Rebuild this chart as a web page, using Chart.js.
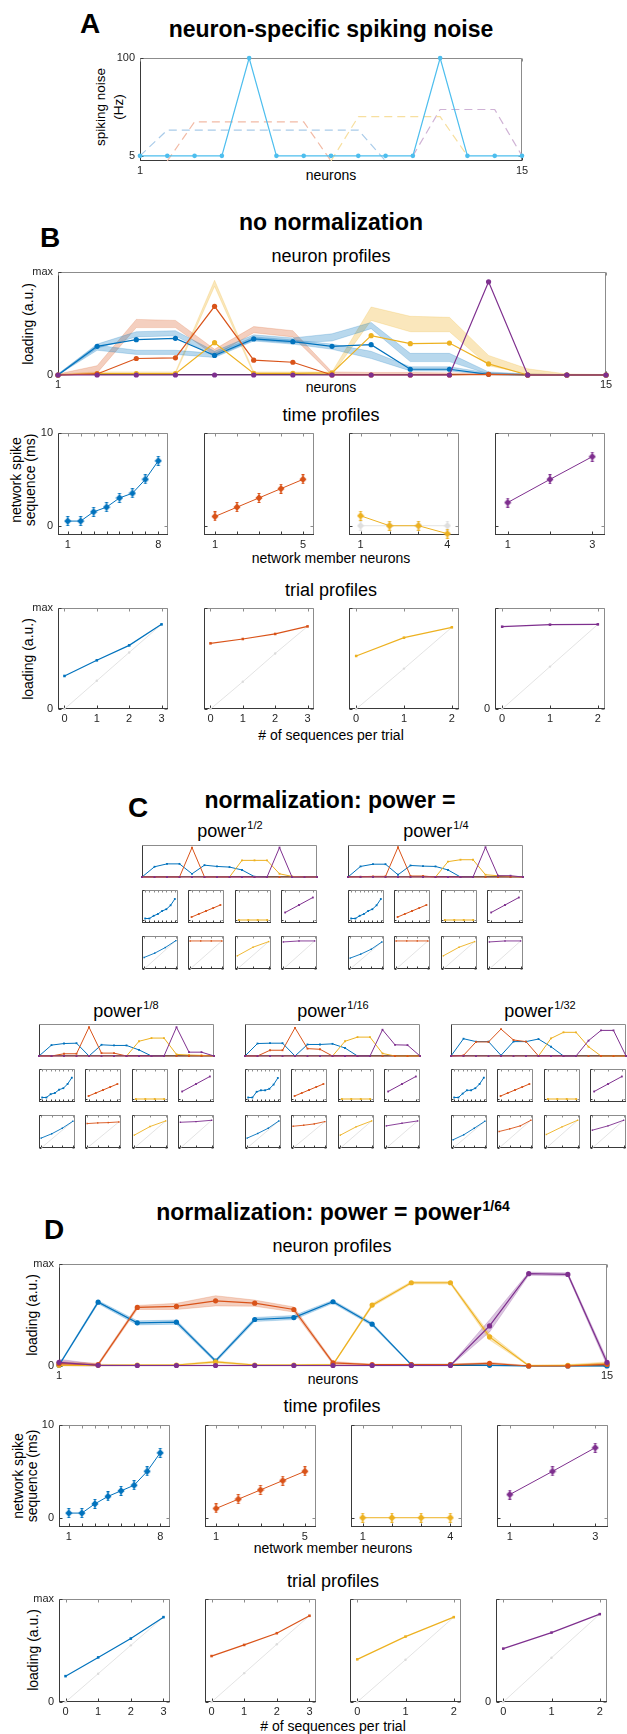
<!DOCTYPE html>
<html><head><meta charset="utf-8">
<script src="https://cdn.jsdelivr.net/npm/chart.js@4.4.1/dist/chart.umd.min.js"></script>
<style>
html,body{margin:0;padding:0;background:#fff}
body{position:relative;width:627px;height:1734px;overflow:hidden;font-family:"Liberation Sans",Arial,Helvetica,sans-serif;color:#000}
.t{position:absolute;white-space:nowrap;line-height:1;transform:translate(-50%,-50%)}
.b{font-weight:bold}
.rot{transform:translate(-50%,-50%) rotate(-90deg);text-align:center}
.sup{font-size:11px;position:relative;top:-8px;margin-left:1px}
.supb{font-size:14px;position:relative;top:-9px;margin-left:1px}
canvas{position:absolute}
</style></head><body>

<div class="t b" style="left:90px;top:23.5px;font-size:28px">A</div>
<div class="t b" style="left:331px;top:29px;font-size:23px">neuron-specific spiking noise</div>
<div class="t rot" style="left:110px;top:107px;font-size:13.5px;line-height:18px">spiking noise<br>(Hz)</div>
<div class="t" style="left:331px;top:175px;font-size:14px">neurons</div>

<div class="t b" style="left:50px;top:237.5px;font-size:28px">B</div>
<div class="t b" style="left:331px;top:222px;font-size:23px">no normalization</div>
<div class="t" style="left:331px;top:256px;font-size:18px">neuron profiles</div>
<div class="t rot" style="left:28px;top:324px;font-size:14px">loading (a.u.)</div>
<div class="t" style="left:331px;top:387px;font-size:14px">neurons</div>
<div class="t" style="left:331px;top:415px;font-size:18px">time profiles</div>
<div class="t rot" style="left:23px;top:480px;font-size:14px;line-height:14px">network spike<br>sequence (ms)</div>
<div class="t" style="left:331px;top:558px;font-size:14px">network member neurons</div>
<div class="t" style="left:331px;top:590px;font-size:18px">trial profiles</div>
<div class="t rot" style="left:28px;top:659px;font-size:14px">loading (a.u.)</div>
<div class="t" style="left:331px;top:735px;font-size:14px"># of sequences per trial</div>

<div class="t b" style="left:138px;top:807.5px;font-size:28px">C</div>
<div class="t b" style="left:330px;top:800px;font-size:23px">normalization: power =</div>
<div class="t" style="left:230px;top:831px;font-size:18px">power<span class="sup">1/2</span></div>
<div class="t" style="left:436px;top:831px;font-size:18px">power<span class="sup">1/4</span></div>
<div class="t" style="left:126px;top:1010.5px;font-size:18px">power<span class="sup">1/8</span></div>
<div class="t" style="left:333px;top:1010.5px;font-size:18px">power<span class="sup">1/16</span></div>
<div class="t" style="left:540px;top:1010.5px;font-size:18px">power<span class="sup">1/32</span></div>

<div class="t b" style="left:333px;top:1212px;font-size:23px">normalization: power = power<span class="supb">1/64</span></div>
<div class="t b" style="left:54px;top:1230px;font-size:28px">D</div>
<div class="t" style="left:332px;top:1245.5px;font-size:18px">neuron profiles</div>
<div class="t rot" style="left:32px;top:1315px;font-size:14px">loading (a.u.)</div>
<div class="t" style="left:333px;top:1379px;font-size:14px">neurons</div>
<div class="t" style="left:332px;top:1405.5px;font-size:18px">time profiles</div>
<div class="t rot" style="left:25px;top:1476px;font-size:14px;line-height:14px">network spike<br>sequence (ms)</div>
<div class="t" style="left:333px;top:1548px;font-size:14px">network member neurons</div>
<div class="t" style="left:333px;top:1580.5px;font-size:18px">trial profiles</div>
<div class="t rot" style="left:33px;top:1650px;font-size:14px">loading (a.u.)</div>
<div class="t" style="left:333px;top:1726px;font-size:14px"># of sequences per trial</div>

<script>
// ================= DATA =================
const neurons = [1,2,3,4,5,6,7,8,9,10,11,12,13,14,15];
const membersBlue = [1,2,3,4,5,6,7,8];
const membersRed = [1,2,3,4,5];
const membersYellow = [1,2,3,4];
const membersPurple = [1,2,3];
const seq3 = [0,1,2,3];
const seq2 = [0,1,2];

// Panel A: spiking noise (Hz)
const aNoise     = [5,5,5,5,100,5,5,5,5,5,5,100,5,5,5];
const aNetBlue   = [5,30,30,30,30,30,30,30,30,0,null,null,null,null,null];
const aNetRed    = [null,0,38,38,38,38,38,0,null,null,null,null,null,null,null];
const aNetYellow = [null,null,null,null,null,null,null,0,43,43,43,43,5,null,null];
const aNetPurple = [null,null,null,null,null,null,null,null,null,null,5,50,50,50,5];

// Panel B: no normalization - neuron profiles
const bBlue   = [0,0.278,0.343,0.356,0.19,0.35,0.324,0.278,0.294,0.056,0.056,0.007,0,0,0];
const bRed    = [0,0.01,0.16,0.167,0.667,0.144,0.124,0,0,0,0,0.007,0,0,0];
const bYellow = [0,0.013,0.013,0.013,0.314,0.016,0.016,0.02,0.382,0.304,0.31,0.108,0,0,0];
const bPurple = [0,0,0,0,0,0,0,0,0,0,0,0.905,0,0,0];
const bBlueUpLo = [0,0.26,0.37,0.38,0.18,0.34,0.31,0.33,0.45,0.13,0.13,0.01,0,0,0];
const bBlueUpHi = [0.01,0.30,0.42,0.43,0.23,0.39,0.36,0.40,0.51,0.21,0.21,0.03,0.01,0,0];
const bBlueDnLo = [0,0.24,0.20,0.20,0.17,0.33,0.30,0.25,0.16,0.04,0.04,0.005,0,0,0];
const bBlueDnHi = [0.01,0.29,0.24,0.24,0.21,0.37,0.34,0.30,0.23,0.08,0.08,0.02,0.005,0,0];
const bRedLo    = [0,0.02,0.46,0.46,0.19,0.41,0.37,0,0.005,0.005,0.005,0.005,0,0,0];
const bRedHi    = [0.01,0.09,0.54,0.53,0.25,0.47,0.43,0.03,0.025,0.025,0.02,0.02,0.01,0.005,0.005];
const bYellowLo = [0,0.01,0.01,0.01,0.86,0.01,0.01,0,0.53,0.42,0.42,0.09,0.01,0,0];
const bYellowHi = [0.01,0.03,0.03,0.03,0.92,0.03,0.03,0.03,0.66,0.57,0.56,0.19,0.06,0.01,0.005];
// time profiles (ms)
const bTimeBlue   = [0.5,0.5,1.5,2,3,3.5,5,7];
const bTimeRed    = [1,2,3,4,5];
const bTimeYellow = [1.07,0,0,-0.86];
const bTimeYellowTruth = [0,0,0,0];
const bTimePurple = [2.5,5,7.45];
// trial profiles
const bTrialBlue   = [0.327,0.482,0.630,0.838];
const bTrialRed    = [0.65,0.693,0.743,0.818];
const bTrialYellow = [0.525,0.706,0.809];
const bTrialPurple = [0.815,0.835,0.838];
const bDiagBlue   = [0,0.28,0.56,0.838];
const bDiagRed    = [0,0.27,0.55,0.818];
const bDiagYellow = [0,0.40,0.809];
const bDiagPurple = [0,0.42,0.838];

// Panel C: neuron profiles per normalization power
const c2Blue   = [0,0.32,0.41,0.41,0.10,0.37,0.33,0.31,0.22,0.01,0,0,0,0,0];
const c2Red    = [0,0,0,0,0.92,0,0,0,0,0,0,0,0,0,0];
const c2Yellow = [0,0,0,0,0,0,0,0,0.52,0.52,0.52,0.10,0.02,0,0];
const c2Purple = [0,0,0,0,0,0,0,0,0,0,0,0.92,0,0,0];
const c4Blue   = [0,0.33,0.40,0.40,0.07,0.36,0.34,0.33,0.22,0,0,0,0,0,0];
const c4Red    = [0,0.01,0.02,0.02,0.93,0.03,0.03,0,0,0,0,0,0,0,0];
const c4Yellow = [0,0,0,0,0,0,0,0,0.48,0.54,0.54,0.07,0.04,0.02,0];
const c4Purple = [0,0,0,0,0,0,0,0,0,0,0,0.93,0.04,0.04,0];
const c8Blue   = [0,0.34,0.39,0.40,0,0.35,0.33,0.33,0.19,0,0,0,0,0,0];
const c8Red    = [0,0,0.07,0.07,0.90,0.09,0.09,0,0,0,0,0,0,0,0];
const c8Yellow = [0,0,0,0,0,0,0,0,0.46,0.56,0.56,0.05,0.03,0.02,0];
const c8Purple = [0,0,0,0,0,0,0,0,0,0,0,0.90,0.12,0.12,0];
const c16Blue   = [0,0.39,0.40,0.40,0,0.36,0.36,0.38,0.25,0,0,0,0,0,0];
const c16Red    = [0,0,0.18,0.18,0.88,0.23,0.21,0,0,0,0,0,0,0,0];
const c16Yellow = [0,0,0,0,0,0,0,0,0.46,0.59,0.59,0.08,0,0,0];
const c16Purple = [0,0,0,0,0,0,0,0,0,0,0,0.82,0.35,0.34,0];
const c32Blue   = [0,0.54,0.45,0.45,0.02,0.45,0.45,0.53,0.29,0,0,0,0,0,0];
const c32Red    = [0,0.02,0.44,0.44,0.84,0.50,0.45,0,0,0,0,0,0,0,0];
const c32Yellow = [0,0,0,0,0,0,0,0,0.55,0.74,0.74,0.29,0,0,0];
const c32Purple = [0,0,0,0,0,0,0,0,0,0,0,0.48,0.80,0.80,0];
// Panel C: time profiles (blue differs per power)
const c2TimeBlue  = [0.5,0.5,1.4,2,3,3.6,4.9,7];
const c4TimeBlue  = [0.5,0.5,1.4,2,3,3.6,4.9,7];
const c8TimeBlue  = [0.5,0.5,1.6,2,3.1,3.6,5,7.1];
const c16TimeBlue = [0.5,0.5,2.4,2.9,2.9,3.4,4.8,7];
const c32TimeBlue = [0.5,0.5,1.8,2.9,2.9,3.6,5,7.1];
const cTimeRed    = [1,2,3,4,5];
const cTimeYellow = [0,0,0,0];
const cTimePurple = [2.5,5,7.5];
// Panel C: trial profiles
const c2TrialBlue   = [0.35,0.48,0.65,0.86];
const c2TrialRed    = [0.85,0.85,0.85,0.85];
const c2TrialYellow = [0.40,0.66,0.83];
const c2TrialPurple = [0.82,0.85,0.85];
const c4TrialBlue   = [0.33,0.45,0.60,0.82];
const c4TrialRed    = [0.85,0.85,0.85,0.85];
const c4TrialYellow = [0.40,0.66,0.83];
const c4TrialPurple = [0.82,0.85,0.85];
const c8TrialBlue   = [0.30,0.43,0.60,0.81];
const c8TrialRed    = [0.74,0.76,0.77,0.79];
const c8TrialYellow = [0.39,0.65,0.82];
const c8TrialPurple = [0.78,0.80,0.84];
const c16TrialBlue   = [0.30,0.44,0.60,0.82];
const c16TrialRed    = [0.66,0.69,0.73,0.80];
const c16TrialYellow = [0.39,0.64,0.82];
const c16TrialPurple = [0.67,0.75,0.82];
const c32TrialBlue   = [0.25,0.40,0.60,0.81];
const c32TrialRed    = [0.50,0.58,0.67,0.84];
const c32TrialYellow = [0.41,0.64,0.84];
const c32TrialPurple = [0.54,0.67,0.84];

// Panel D: power^(1/64)
const dBlue   = [0.007,0.626,0.423,0.430,0.049,0.456,0.475,0.63,0.41,0.013,0.013,0.007,0,0,0];
const dRed    = [0.023,0.013,0.574,0.584,0.639,0.616,0.554,0.03,0.013,0.013,0.013,0.026,0,0,0.016];
const dYellow = [0.007,0.007,0.01,0.01,0.04,0.01,0.01,0.013,0.597,0.816,0.816,0.285,0.003,0.007,0.02];
const dPurple = [0.036,0.007,0.005,0.005,0.005,0.005,0.005,0.005,0.005,0.005,0.005,0.393,0.905,0.898,0.036];
const dSpreadBlue   = [0.01,0.015,0.02,0.02,0.015,0.02,0.02,0.015,0.015,0.005,0.005,0.005,0,0,0];
const dSpreadRed    = [0.02,0.015,0.02,0.03,0.05,0.03,0.025,0.015,0.005,0.005,0.005,0.01,0.005,0.005,0.015];
const dSpreadYellow = [0.005,0.005,0.005,0.005,0.01,0.005,0.005,0.005,0.015,0.012,0.012,0.03,0.008,0.008,0.02];
const dSpreadPurple = [0.03,0.01,0.005,0.005,0.005,0.005,0.005,0.005,0.005,0.005,0.005,0.06,0.015,0.015,0.03];
const dTimeBlue   = [0.5,0.5,1.5,2.3,2.9,3.5,5,7];
const dTimeRed    = [1,2,3,4,5];
const dTimeYellow = [0,0,0,0];
const dTimePurple = [2.5,5,7.55];
const dTrialBlue   = [0.251,0.433,0.616,0.824];
const dTrialRed    = [0.446,0.554,0.668,0.837];
const dTrialYellow = [0.414,0.635,0.824];
const dTrialPurple = [0.518,0.674,0.853];
const dDiagBlue   = [0,0.275,0.55,0.824];
const dDiagRed    = [0,0.28,0.56,0.837];
const dDiagYellow = [0,0.41,0.824];
const dDiagPurple = [0,0.43,0.853];

// ================= RENDERING =================
Chart.defaults.font.family = '"Liberation Sans", Arial, Helvetica, sans-serif';
Chart.defaults.font.size = 11;
Chart.defaults.color = '#262626';

const BLUE = '#0072BD', RED = '#D95319', YEL = '#EDB120', PUR = '#7E2F8E', CYAN = '#4DBEEE';
const DIAG = '#dcdcdc';
const timeXlim  = [[0.25,8.75],[0.5,5.5],[0.6,4.4],[0.7,3.3]];
const trialXlim = [[-0.2,3.2],[-0.2,3.2],[-0.15,2.15],[-0.15,2.15]];

const boxPlugin = {
  id: 'mbox',
  beforeDatasetsDraw(chart, args, o) {
    const {ctx, chartArea: a} = chart;
    const xs = chart.scales.x, ys = chart.scales.y;
    const L = Math.round(a.left) + 0.5, R = Math.round(a.right) - 0.5;
    const T = Math.round(a.top) + 0.5, B = Math.round(a.bottom) - 0.5;
    const seg = (x1, y1, x2, y2, c) => { ctx.strokeStyle = c; ctx.lineWidth = 1; ctx.beginPath(); ctx.moveTo(x1, y1); ctx.lineTo(x2, y2); ctx.stroke(); };
    ctx.save();
    seg(L, T, R, T, '#8c8c8c'); seg(R, T, R, B, '#8c8c8c');
    seg(L, T, L, B, '#3a3a3a'); seg(L - 0.5, B, R + 0.5, B, '#3a3a3a');
    const tl = o.tl || 3;
    (o.xm || []).forEach(v => { const p = Math.round(xs.getPixelForValue(v)) + 0.5; seg(p, B, p, B - tl, '#3a3a3a'); seg(p, T, p, T + tl, '#8c8c8c'); });
    (o.ym || []).forEach(v => { const p = Math.round(ys.getPixelForValue(v)) + 0.5; seg(L, p, L + tl, p, '#3a3a3a'); seg(R, p, R - tl, p, '#8c8c8c'); });
    ctx.restore();
  }
};

const MG = {l: 40, t: 12, r: 16, b: 24};
function mk(box, datasets, o) {
  const [bx, by, bw, bh] = box.map(Math.round);
  const W = bw + MG.l + MG.r, H = bh + MG.t + MG.b;
  const c = document.createElement('canvas');
  c.width = W; c.height = H;
  c.style.left = (bx - MG.l) + 'px'; c.style.top = (by - MG.t) + 'px';
  c.style.width = W + 'px'; c.style.height = H + 'px';
  document.body.appendChild(c);
  const lab = (map) => (v) => (map && map[v] !== undefined) ? map[v] : String(v);
  return new Chart(c, {
    type: 'line',
    data: {datasets},
    options: {
      responsive: false, animation: false, events: [],
      layout: {padding: {left: 0, top: MG.t, right: MG.r, bottom: 0}},
      plugins: {legend: {display: false}, tooltip: {enabled: false}, mbox: {xm: o.xm, ym: o.ym, tl: o.tl}},
      scales: {
        x: {type: 'linear', min: o.x[0], max: o.x[1],
            grid: {display: false, drawTicks: false}, border: {display: false},
            afterBuildTicks: s => { s.ticks = (o.xt || o.x).map(v => ({value: v})); },
            ticks: {display: !!o.xt, autoSkip: false, maxRotation: 0, padding: 3, font: {size: 11}, callback: lab(o.xl)},
            afterFit: s => { s.height = MG.b; }},
        y: {type: 'linear', min: o.y[0], max: o.y[1],
            grid: {display: false, drawTicks: false}, border: {display: false},
            afterBuildTicks: s => { s.ticks = (o.yt || o.y).map(v => ({value: v})); },
            ticks: {display: !!o.yt, autoSkip: false, padding: 5, font: {size: 11}, callback: lab(o.yl)},
            afterFit: s => { s.width = MG.l; }}
      }
    },
    plugins: [boxPlugin]
  });
}

const P = (xs, ys) => xs.map((x, i) => ({x, y: ys[i]}));
function ln(xs, ys, color, extra) {
  return Object.assign({
    data: P(xs, ys), borderColor: color, backgroundColor: color, pointBackgroundColor: color,
    borderWidth: 1.2, pointRadius: 2.6, pointStyle: 'circle', pointBorderWidth: 0,
    tension: 0, fill: false, clip: false, spanGaps: false, order: 1
  }, extra || {});
}
function band(xs, lo, hi, fillColor, edgeColor) {
  return [
    {data: P(xs, lo), borderColor: edgeColor, borderWidth: 0.8, pointRadius: 0, fill: false, clip: false, tension: 0, order: 10},
    {data: P(xs, hi), borderColor: edgeColor, borderWidth: 0.8, pointRadius: 0, backgroundColor: fillColor, fill: '-1', clip: false, tension: 0, order: 10}
  ];
}
function diamond(color) {
  const c = document.createElement('canvas'); c.width = 8; c.height = 10;
  const g = c.getContext('2d'); g.fillStyle = color; g.strokeStyle = color; g.lineWidth = 1;
  g.beginPath(); g.moveTo(4, 1.3); g.lineTo(7.6, 5); g.lineTo(4, 8.7); g.lineTo(0.4, 5); g.closePath(); g.fill();
  g.beginPath(); g.moveTo(4, 0); g.lineTo(4, 10); g.moveTo(2.5, 0.5); g.lineTo(5.5, 0.5); g.moveTo(2.5, 9.5); g.lineTo(5.5, 9.5); g.stroke();
  return c;
}
const DM = {b: diamond(BLUE), r: diamond(RED), y: diamond(YEL), p: diamond(PUR), g: diamond('#dedede')};

// ---------- Panel A ----------
const dash = (ys, col) => ln(neurons, ys, col, {borderDash: [8, 5], pointRadius: 0, borderWidth: 1.2, order: 5});
mk([140, 58, 382, 103], [
  dash(aNetBlue, '#a9cbe9'), dash(aNetRed, '#f2baa5'), dash(aNetYellow, '#f7df9f'), dash(aNetPurple, '#cfb2d5'),
  ln(neurons, aNoise, CYAN, {pointRadius: 2.3, order: 1})
], {x: [1, 15], y: [0, 100], xt: [1, 15], yt: [5, 100], xm: [1, 15], ym: [5, 100]});

// ---------- shared builders ----------
const tBlueA = 'rgba(0,114,189,0.28)', tBlueE = 'rgba(0,114,189,0.25)';
const tRedA = 'rgba(217,83,25,0.28)', tRedE = 'rgba(217,83,25,0.25)';
const tYelA = 'rgba(237,177,32,0.30)', tYelE = 'rgba(237,177,32,0.25)';
const tPurA = 'rgba(126,47,142,0.28)', tPurE = 'rgba(126,47,142,0.25)';

function neuronSet(blue, red, yellow, purple, small) {
  const ex = small ? {pointStyle: 'rect', pointRadius: 1.3, borderWidth: 1} : {};
  return [
    ln(neurons, purple, PUR, Object.assign({order: 1}, ex)),
    ln(neurons, red, RED, Object.assign({order: 2}, ex)),
    ln(neurons, yellow, YEL, Object.assign({order: 3}, ex)),
    ln(neurons, blue, BLUE, Object.assign({order: 4}, ex))
  ];
}
const memberSets = [membersBlue, membersRed, membersYellow, membersPurple];
const colors = [BLUE, RED, YEL, PUR];
const dms = [DM.b, DM.r, DM.y, DM.p];
const seqSets = [seq3, seq3, seq2, seq2];

function timePlot(box, k, ys, big, extraSets) {
  const xs = memberSets[k];
  const sets = (extraSets || []).slice();
  sets.push(ln(xs, ys, colors[k], big ? {pointStyle: dms[k], pointRadius: 4, borderWidth: 1, order: 1}
                                      : {pointStyle: 'rect', pointRadius: 1.3, borderWidth: 1, order: 1}));
  const o = {x: timeXlim[k], y: [-1, 10], xm: xs, ym: [0, 10], tl: big ? 3 : 2};
  if (big) { o.xt = [1, xs.length]; if (k === 0) o.yt = [0, 10]; }
  mk(box, sets, o);
}
function trialPlot(box, k, ys, diag, big) {
  const xs = seqSets[k];
  const dxs = diag.length === 2 ? [0, xs[xs.length - 1]] : xs;
  const sets = [
    ln(dxs, diag, DIAG, {borderWidth: 0.8, pointRadius: big ? 1.2 : 0, order: 5}),
    ln(xs, ys, colors[k], big ? {pointStyle: 'rect', pointRadius: 1.8, borderWidth: 1.2, order: 1}
                              : {pointStyle: 'rect', pointRadius: 1, borderWidth: 0.9, order: 1})
  ];
  const o = {x: trialXlim[k], y: [0, 1], xm: xs, ym: [0, 1], tl: big ? 3 : 2};
  if (big) { o.xt = xs; o.yl = {0: '0', 1: 'max'}; if (k === 0) o.yt = [0, 1]; if (k === 3) o.yt = [0]; }
  mk(box, sets, o);
}

// ---------- Panel B ----------
mk([58, 272, 548, 103], [
  ...band(neurons, bBlueUpLo, bBlueUpHi, tBlueA, tBlueE),
  ...band(neurons, bBlueDnLo, bBlueDnHi, tBlueA, tBlueE),
  ...band(neurons, bRedLo, bRedHi, tRedA, tRedE),
  ...band(neurons, bYellowLo, bYellowHi, tYelA, tYelE),
  ...neuronSet(bBlue, bRed, bYellow, bPurple, false)
], {x: [1, 15], y: [0, 1], xt: [1, 15], yt: [0, 1], yl: {0: '0', 1: 'max'}, xm: [1, 15], ym: [0, 1]});

const bLefts = [58, 204, 349, 495];
timePlot([bLefts[0], 433, 110, 102], 0, bTimeBlue, true);
timePlot([bLefts[1], 433, 110, 102], 1, bTimeRed, true);
timePlot([bLefts[2], 433, 110, 102], 2, bTimeYellow, true,
  [ln(membersYellow, bTimeYellowTruth, '#e3e3e3', {pointStyle: DM.g, pointRadius: 4, borderWidth: 1, order: 5})]);
timePlot([bLefts[3], 433, 110, 102], 3, bTimePurple, true);

trialPlot([bLefts[0], 608, 110, 101], 0, bTrialBlue, bDiagBlue, true);
trialPlot([bLefts[1], 608, 110, 101], 1, bTrialRed, bDiagRed, true);
trialPlot([bLefts[2], 608, 110, 101], 2, bTrialYellow, bDiagYellow, true);
trialPlot([bLefts[3], 608, 110, 101], 3, bTrialPurple, bDiagPurple, true);

// ---------- Panel C ----------
const cGroups = [
  {x: 142, y: 845, n: [c2Blue, c2Red, c2Yellow, c2Purple], t: c2TimeBlue, tr: [c2TrialBlue, c2TrialRed, c2TrialYellow, c2TrialPurple]},
  {x: 348, y: 845, n: [c4Blue, c4Red, c4Yellow, c4Purple], t: c4TimeBlue, tr: [c4TrialBlue, c4TrialRed, c4TrialYellow, c4TrialPurple]},
  {x: 39, y: 1024, n: [c8Blue, c8Red, c8Yellow, c8Purple], t: c8TimeBlue, tr: [c8TrialBlue, c8TrialRed, c8TrialYellow, c8TrialPurple]},
  {x: 245, y: 1024, n: [c16Blue, c16Red, c16Yellow, c16Purple], t: c16TimeBlue, tr: [c16TrialBlue, c16TrialRed, c16TrialYellow, c16TrialPurple]},
  {x: 451, y: 1024, n: [c32Blue, c32Red, c32Yellow, c32Purple], t: c32TimeBlue, tr: [c32TrialBlue, c32TrialRed, c32TrialYellow, c32TrialPurple]}
];
cGroups.forEach(g => {
  mk([g.x, g.y, 175, 32], neuronSet(g.n[0], g.n[1], g.n[2], g.n[3], true),
     {x: [1, 15], y: [0, 1], xm: [], ym: [], tl: 2});
  const ty = g.y + 45, ry = g.y + 91;
  const times = [g.t, cTimeRed, cTimeYellow, cTimePurple];
  for (let k = 0; k < 4; k++) {
    const bx = g.x + k * 46.4;
    timePlot([bx, ty, 36, 33], k, times[k], false);
    const tr = g.tr[k];
    trialPlot([bx, ry, 36, 33], k, tr, [0, tr[tr.length - 1]], false);
  }
});

// ---------- Panel D ----------
const lo = (v, s) => v.map((y, i) => Math.max(0, y - s[i]));
const hi = (v, s) => v.map((y, i) => y + s[i]);
mk([59, 1264, 548, 102], [
  ...band(neurons, lo(dBlue, dSpreadBlue), hi(dBlue, dSpreadBlue), tBlueA, tBlueE),
  ...band(neurons, lo(dRed, dSpreadRed), hi(dRed, dSpreadRed), tRedA, tRedE),
  ...band(neurons, lo(dYellow, dSpreadYellow), hi(dYellow, dSpreadYellow), tYelA, tYelE),
  ...band(neurons, lo(dPurple, dSpreadPurple), hi(dPurple, dSpreadPurple), tPurA, tPurE),
  ...neuronSet(dBlue, dRed, dYellow, dPurple, false)
], {x: [1, 15], y: [0, 1], xt: [1, 15], yt: [0, 1], yl: {0: '0', 1: 'max'}, xm: [1, 15], ym: [0, 1]});

const dTimeLefts = [59, 205, 351, 497];
const dTimes = [dTimeBlue, dTimeRed, dTimeYellow, dTimePurple];
for (let k = 0; k < 4; k++) timePlot([dTimeLefts[k], 1425, 111, 102], k, dTimes[k], true);
const dTrialLefts = [59, 205, 350, 496];
const dTrials = [dTrialBlue, dTrialRed, dTrialYellow, dTrialPurple];
const dDiags = [dDiagBlue, dDiagRed, dDiagYellow, dDiagPurple];
for (let k = 0; k < 4; k++) trialPlot([dTrialLefts[k], 1599, 111, 103], k, dTrials[k], dDiags[k], true);
</script>
</body></html>
